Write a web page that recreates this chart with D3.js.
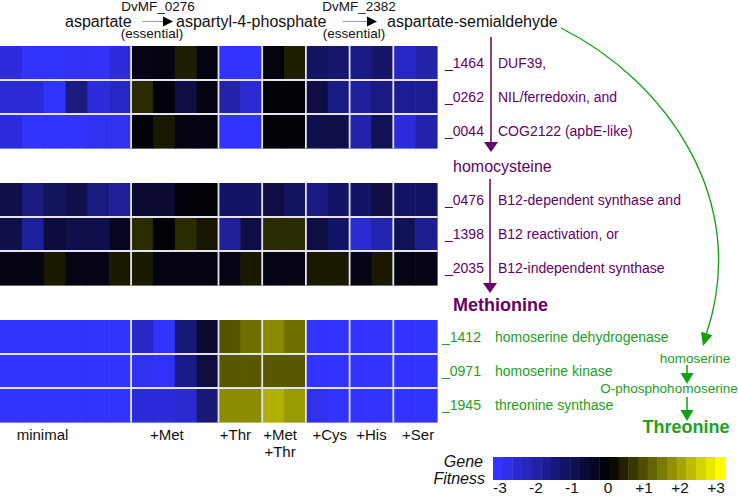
<!DOCTYPE html>
<html><head><meta charset="utf-8">
<script src="https://cdn.jsdelivr.net/npm/d3@7"></script>
<style>
body{margin:0;background:#fff}
svg{display:block;font-family:"Liberation Sans",Arial,sans-serif}
</style>
</head><body>
<svg id="c" width="738" height="496"></svg>
<script>
// ---------- data ----------
const conditions = ["minimal", "+Met", "+Thr", "+Met\n+Thr", "+Cys", "+His", "+Ser"];
const replicates = [6, 4, 2, 2, 2, 2, 2];
const genes = ["_1464", "_0262", "_0044", "_0476", "_1398", "_2035", "_1412", "_0971", "_1945"];
const descriptions = ["DUF39,", "NIL/ferredoxin, and", "COG2122 (apbE-like)",
  "B12-dependent synthase and", "B12 reactivation, or", "B12-independent synthase",
  "homoserine dehydrogenase", "homoserine kinase", "threonine synthase"];
const geneBlock = [0, 0, 0, 1, 1, 1, 2, 2, 2];
const fit_1464 = [-2.6, -3, -3, -2.9, -2.9, -2.6, -0.25, -0.2, 0.35, -0.2, -3, -3, -0.15, 0.35, -1.15, -1.3, -1.6, -1.25, -2.3, -2.0];
const fit_0262 = [-2.5, -2.5, -3, -1.5, -2.6, -2.3, 0.5, -0.1, -0.8, -0.2, -2.0, -2.5, -0.1, -0.1, -0.8, -1.55, -1.8, -1.5, -1.7, -1.7];
const fit_0044 = [-2.6, -3, -3, -3, -2.8, -2.8, -0.1, 0.3, -0.2, -0.2, -3, -3, -0.1, -0.1, -0.9, -0.9, -2.0, -1.0, -2.6, -2.0];
const fit_0476 = [-0.9, -1.5, -1.1, -0.9, -1.5, -1.8, -0.6, -0.6, -0.1, -0.1, -1.2, -1.2, -0.8, -1.1, -1.5, -1.2, -1.2, -0.8, -1.2, -1.2];
const fit_1398 = [-0.9, -1.8, -0.7, -0.9, -0.9, -0.4, 0.5, -0.1, 0.5, 0.25, -1.8, -0.8, 0.5, 0.5, -0.8, -1.2, -2.5, -2.1, -1.0, -1.7];
const fit_2035 = [-0.2, -0.2, 0.3, -0.25, -0.25, 0.3, 0.3, -0.2, -0.2, -0.2, -0.25, 0.3, -0.25, -0.25, 0.3, 0.3, -0.25, 0.3, -0.25, -0.25];
const fit_1412 = [-3, -3, -3, -3, -3, -3, -2.35, -3, -1.4, -0.6, 1.0, 1.32, 1.62, 1.32, -3, -3, -3, -3, -3, -3];
const fit_0971 = [-3, -3, -3, -3, -3, -3, -2.8, -2.9, -1.6, -0.75, 1.04, 1.04, 1.04, 1.04, -3, -3, -3, -3, -3, -3];
const fit_1945 = [-3, -3, -3, -3, -3, -3, -2.55, -2.55, -2.45, -1.4, 1.65, 1.65, 2.07, 1.8, -2.8, -3, -3, -3, -3, -3];
const fitness = [fit_1464, fit_0262, fit_0044, fit_0476, fit_1398, fit_2035, fit_1412, fit_0971, fit_1945];
const legendTicks = [-3, -2, -1, 0, 1, 2, 3];
const legendTickLabels = ["-3", "-2", "-1", "0", "+1", "+2", "+3"];

// ---------- layout ----------
const svg = d3.select("#c");
const PURPLE = "#660066", GREEN = "#22a022", GREEN_ARROW = "#12a012";
const nCols = d3.sum(replicates);
const x = d3.scaleBand().domain(d3.range(nCols)).range([0, 437]);
const blockY = d3.scaleLinear().domain([0, 2]).range([46, 320]);
const rowY = d3.scaleBand().domain([0, 1, 2]).range([0, 102]);
const color = d3.scaleLinear().domain([-3, 0, 3]).range(["#3333ff", "#000000", "#ffff00"]).clamp(true);
const yOf = i => blockY(geneBlock[i]) + rowY(i % 3);
const groupStart = [0]; replicates.forEach((r, i) => groupStart.push(groupStart[i] + r));

// cells
const cells = [];
fitness.forEach((row, i) => row.forEach((v, j) => cells.push({i, j, v})));
svg.append("g").selectAll("rect").data(cells).join("rect")
  .attr("x", d => x(d.j)).attr("y", d => yOf(d.i))
  .attr("width", x.bandwidth() + 0.6).attr("height", rowY.bandwidth() + 0.6)
  .attr("fill", d => color(d.v));

// separators
const sep = svg.append("g").attr("stroke", "#e4e4ee").attr("stroke-width", 1.8);
[0, 1, 2].forEach(b => {
  const y0 = blockY(b), y1 = y0 + 102.6;
  groupStart.slice(1, -1).forEach(g => {
    sep.append("line").attr("x1", x(g)).attr("x2", x(g)).attr("y1", y0).attr("y2", y1);
  });
  [1, 2].forEach(r => {
    sep.append("line").attr("x1", 0).attr("x2", 437.6).attr("y1", y0 + rowY(r)).attr("y2", y0 + rowY(r));
  });
});

// column labels
const labelShift = [-23, -8, -5, -4, 2, 0, 3];
conditions.forEach((c, k) => {
  const cx = (x(groupStart[k]) + x(groupStart[k + 1] - 1) + x.bandwidth()) / 2 + labelShift[k];
  const t = svg.append("text").attr("x", cx).attr("y", 440).attr("text-anchor", "middle")
    .attr("font-size", 15).attr("fill", "#111");
  c.split("\n").forEach((line, li) => t.append("tspan").attr("x", cx).attr("dy", li ? 17 : 0).text(line));
});

// gene labels
genes.forEach((g, i) => {
  const cy = yOf(i) + rowY.bandwidth() / 2 + 5;
  const isThr = geneBlock[i] === 2;
  const col = isThr ? GREEN : PURPLE;
  svg.append("text").attr("x", isThr ? 442 : 445).attr("y", cy).attr("font-size", 14).attr("fill", col).text(g);
  svg.append("text").attr("x", isThr ? 495 : 498).attr("y", cy).attr("font-size", 14).attr("fill", col).text(descriptions[i]);
});

// arrowhead helper
function head(tipX, tipY, dx, dy, len, base, fill) {
  const n = Math.hypot(dx, dy), ux = dx / n, uy = dy / n, px = -uy, py = ux;
  const bx = tipX - ux * len, by = tipY - uy * len;
  svg.append("path").attr("fill", fill)
    .attr("d", `M${tipX},${tipY}L${bx + px * base / 2},${by + py * base / 2}L${bx - px * base / 2},${by - py * base / 2}Z`);
}

// top pathway
const topG = svg.append("g").attr("fill", "#111");
topG.append("text").attr("x", 65).attr("y", 27).attr("font-size", 16).text("aspartate");
topG.append("text").attr("x", 176).attr("y", 27).attr("font-size", 16).text("aspartyl-4-phosphate");
topG.append("text").attr("x", 387).attr("y", 27).attr("font-size", 16).text("aspartate-semialdehyde");
topG.append("text").attr("x", 158).attr("y", 11).attr("font-size", 13.5).attr("text-anchor", "middle").text("DvMF_0276");
topG.append("text").attr("x", 152).attr("y", 38).attr("font-size", 13.5).attr("text-anchor", "middle").text("(essential)");
topG.append("text").attr("x", 359).attr("y", 11).attr("font-size", 13.5).attr("text-anchor", "middle").text("DvMF_2382");
topG.append("text").attr("x", 354).attr("y", 38).attr("font-size", 13.5).attr("text-anchor", "middle").text("(essential)");
[[142, 173], [343, 377]].forEach(([a, b]) => {
  svg.append("line").attr("x1", a).attr("x2", b - 8).attr("y1", 21.5).attr("y2", 21.5).attr("stroke", "#999").attr("stroke-width", 1);
  head(b, 21.5, 1, 0, 10, 10, "#000");
});

// purple pathway
svg.append("line").attr("x1", 491).attr("x2", 491).attr("y1", 37).attr("y2", 144).attr("stroke", PURPLE).attr("stroke-width", 1.5);
head(491, 152, 0, 1, 10, 14, PURPLE);
svg.append("text").attr("x", 453).attr("y", 172).attr("font-size", 16).attr("fill", PURPLE).text("homocysteine");
svg.append("line").attr("x1", 490).attr("x2", 490).attr("y1", 179).attr("y2", 285).attr("stroke", PURPLE).attr("stroke-width", 1.5);
head(490, 293, 0, 1, 10, 14, PURPLE);
svg.append("text").attr("x", 453).attr("y", 311).attr("font-size", 18).attr("font-weight", "bold").attr("fill", PURPLE).text("Methionine");

// green pathway
svg.append("path").attr("d", "M561,28 C665,80 752,200 706,335").attr("fill", "none")
  .attr("stroke", GREEN_ARROW).attr("stroke-width", 1.3);
head(703, 346, -0.3, 1, 13, 12, GREEN_ARROW);
svg.append("text").attr("x", 695).attr("y", 363).attr("font-size", 13.5).attr("text-anchor", "middle").attr("fill", GREEN).text("homoserine");
svg.append("line").attr("x1", 687).attr("x2", 687).attr("y1", 365).attr("y2", 375).attr("stroke", GREEN_ARROW).attr("stroke-width", 1.5);
head(687, 384, 0, 1, 11, 13, GREEN_ARROW);
svg.append("text").attr("x", 669).attr("y", 393).attr("font-size", 13.5).attr("text-anchor", "middle").attr("fill", GREEN).text("O-phosphohomoserine");
svg.append("line").attr("x1", 687).attr("x2", 687).attr("y1", 397).attr("y2", 412).attr("stroke", GREEN_ARROW).attr("stroke-width", 1.5);
head(687, 421, 0, 1, 11, 13, GREEN_ARROW);
svg.append("text").attr("x", 686).attr("y", 433).attr("font-size", 18).attr("font-weight", "bold").attr("text-anchor", "middle").attr("fill", GREEN).text("Threonine");

// legend
const lx = d3.scaleLinear().domain([-3, 3]).range([500, 716]);
const nSteps = 24, barX0 = 493, barX1 = 725;
const stepW = (barX1 - barX0) / nSteps;
svg.append("g").selectAll("rect").data(d3.range(nSteps)).join("rect")
  .attr("x", k => barX0 + k * stepW).attr("y", 457).attr("width", stepW + 0.4).attr("height", 23)
  .attr("fill", k => color(-3 + k * 6 / (nSteps - 1)));
svg.append("g").selectAll("text").data(legendTicks).join("text")
  .attr("x", d => lx(d)).attr("y", 493).attr("text-anchor", "middle").attr("font-size", 15.5).attr("fill", "#111")
  .text((d, k) => legendTickLabels[k]);
svg.append("text").attr("x", 483).attr("y", 467).attr("text-anchor", "end").attr("font-size", 16).attr("font-style", "italic").attr("fill", "#111").text("Gene");
svg.append("text").attr("x", 485).attr("y", 484).attr("text-anchor", "end").attr("font-size", 16).attr("font-style", "italic").attr("fill", "#111").text("Fitness");
</script>
</body></html>
